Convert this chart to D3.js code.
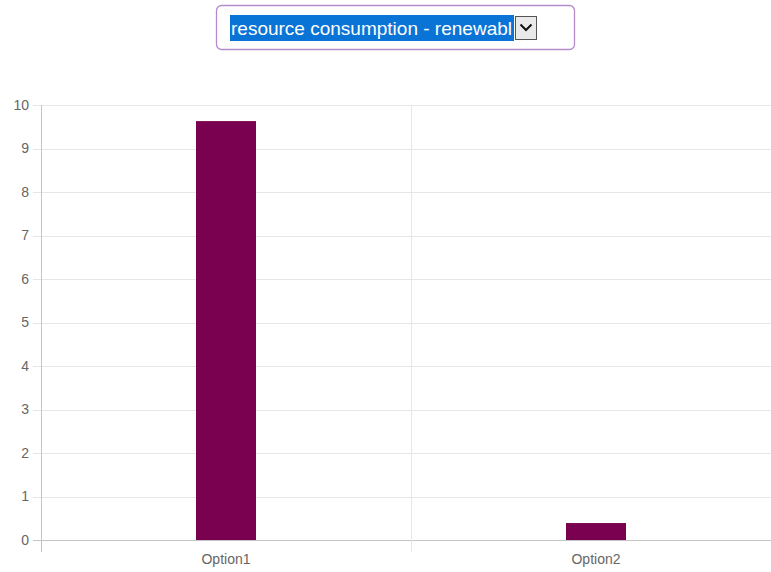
<!DOCTYPE html>
<html><head><meta charset="utf-8">
<script src="https://cdn.jsdelivr.net/npm/d3@7"></script>
<style>html,body{margin:0;padding:0;background:#fff;overflow:hidden}</style>
</head><body>
<svg id="c" width="771" height="572"></svg>
<script>
const categories = ["Option1", "Option2"];
const values = [9.63, 0.39];
const yTicks = [0,1,2,3,4,5,6,7,8,9,10];
const dropdownLabel = "resource consumption - renewabl";

const svg = d3.select("#c");
const font = "'Liberation Sans', Arial, sans-serif";

// Dropdown
const dd = svg.append("g");
dd.append("rect").attr("x",216.5).attr("y",5.5).attr("width",358).attr("height",44).attr("rx",5)
  .attr("fill","#fff").attr("stroke","#b58ccb").attr("stroke-width",1.3);
dd.append("rect").attr("x",230).attr("y",15).attr("width",284).attr("height",26).attr("fill","#0a74d6");
dd.append("text").attr("x",231).attr("y",34.5).attr("font-family",font).attr("font-size",19)
  .attr("textLength",281).attr("lengthAdjust","spacingAndGlyphs")
  .attr("fill","#fff").text(dropdownLabel);
dd.append("rect").attr("x",515.5).attr("y",16.5).attr("width",21).attr("height",23)
  .attr("fill","#e9e9e9").attr("stroke","#555").attr("stroke-width",1);
dd.append("path").attr("d","M520.5,24.5 L526,30 L531.5,24.5").attr("fill","none").attr("stroke","#111").attr("stroke-width",2);

// Scales
const x = d3.scaleBand().domain(categories).range([41, 781]).padding(0);
const y = d3.scaleLinear().domain([0, 10]).range([540, 105]);
const barFrac = 60/370;

// Horizontal gridlines
svg.append("g").selectAll("line").data(yTicks).join("line")
  .attr("x1",33).attr("x2",771)
  .attr("y1",d=>Math.round(y(d))+0.5).attr("y2",d=>Math.round(y(d))+0.5)
  .attr("stroke",d=>d===0?"#c4c4c4":"#e6e6e6").attr("stroke-width",1);

// Vertical gridlines at category boundaries
const bounds = [x.range()[0], ...categories.map(c=>x(c)+x.bandwidth())];
svg.append("g").selectAll("line").data(bounds).join("line")
  .attr("x1",d=>Math.round(d)+0.5).attr("x2",d=>Math.round(d)+0.5)
  .attr("y1",y(10)).attr("y2",552)
  .attr("stroke",(d,i)=>i===0?"#c4c4c4":"#e6e6e6");

// Y axis labels
const yAxis = d3.axisLeft(y).tickValues(yTicks).tickSize(0).tickPadding(12);
const yg = svg.append("g").attr("transform","translate(41,0)").call(yAxis);
yg.select(".domain").remove();
yg.selectAll("text").attr("font-family",font).attr("font-size",14).attr("fill","#666");

// X axis labels
const xAxis = d3.axisBottom(x).tickSize(0).tickPadding(14);
const xg = svg.append("g").attr("transform","translate(0,540)").call(xAxis);
xg.select(".domain").remove();
xg.selectAll("text").attr("font-family",font).attr("font-size",14).attr("fill","#666");

// Bars
svg.append("g").selectAll("rect").data(values).join("rect")
  .attr("x",(d,i)=>x(categories[i]) + x.bandwidth()*(1-barFrac)/2)
  .attr("width",x.bandwidth()*barFrac)
  .attr("y",d=>y(d)).attr("height",d=>y(0)-y(d))
  .attr("fill","#7a0050");
</script>
</body></html>
